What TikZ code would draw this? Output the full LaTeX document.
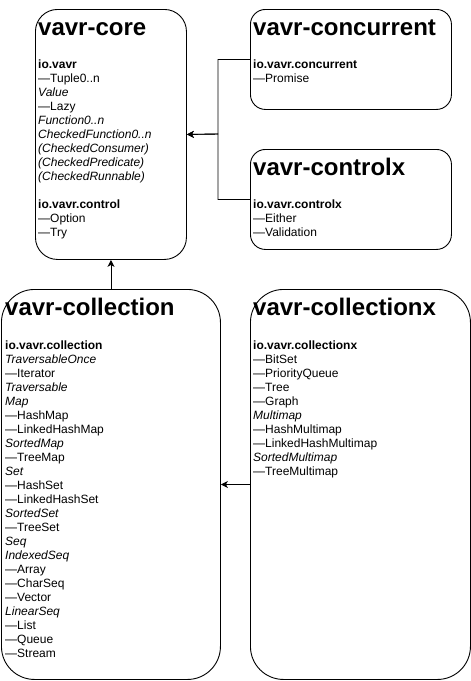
\documentclass[tikz,border=0pt]{standalone}
\usepackage{fontspec}
\setmainfont{Liberation Sans}
\usetikzlibrary{arrows.meta}

\newcommand{\pkg}[1]{\textbf{#1}\\}
\newcommand{\iface}[1]{\textit{#1}\\}
\newcommand{\impl}[1]{---#1\\}
\newcommand{\modtitle}{\fontsize{24}{27}\selectfont\bfseries}

\tikzset{
  modbox/.style={draw, line width=0.9pt, inner sep=0pt, anchor=north west},
  modtext/.style={inner sep=0pt, anchor=base west, font=\fontsize{12}{14}\selectfont},
  modhead/.style={inner sep=0pt, anchor=base west, font=\modtitle},
  dep/.style={line width=0.9pt, -{Stealth[length=7pt,width=7pt,inset=2pt]}}
}

\begin{document}
\begin{tikzpicture}[x=1pt, y=1pt]
  \useasboundingbox (0,0) rectangle (471,-681);
  \node[modbox, rounded corners=22pt, minimum width=151pt, minimum height=250pt] (core) at (35,-9) {};
  \node[modbox, rounded corners=15pt, minimum width=201pt, minimum height=100pt] (concurrent) at (250,-9) {};
  \node[modbox, rounded corners=15pt, minimum width=201pt, minimum height=100pt] (controlx) at (250,-149) {};
  \node[modbox, rounded corners=33pt, minimum width=219pt, minimum height=390pt] (collection) at (1,-289) {};
  \node[modbox, rounded corners=33pt, minimum width=220pt, minimum height=390pt] (collectionx) at (250,-289) {};

  \node[modhead] (core-title) at (38,-35.5) {vavr-core};
  \node[modtext] (core-body) at (38,-68.5) {\parbox[t]{145pt}{%
    \pkg{io.vavr}
    \impl{Tuple0..n}
    \iface{Value}
    \impl{Lazy}
    \iface{Function0..n}
    \iface{CheckedFunction0..n}
    \iface{(CheckedConsumer)}
    \iface{(CheckedPredicate)}
    \iface{(CheckedRunnable)}[14pt]
    \pkg{io.vavr.control}
    \impl{Option}
    ---Try}};

  \node[modhead] (concurrent-title) at (253,-35.5) {vavr-concurrent};
  \node[modtext] (concurrent-body) at (253,-68.5) {\parbox[t]{195pt}{%
    \pkg{io.vavr.concurrent}
    ---Promise}};

  \node[modhead] (controlx-title) at (253,-175.5) {vavr-controlx};
  \node[modtext] (controlx-body) at (253,-208.5) {\parbox[t]{195pt}{%
    \pkg{io.vavr.controlx}
    \impl{Either}
    ---Validation}};

  \node[modhead] (collection-title) at (5,-315.5) {vavr-collection};
  \node[modtext] (collection-body) at (5,-349.5) {\parbox[t]{210pt}{%
    \pkg{io.vavr.collection}
    \iface{TraversableOnce}
    \impl{Iterator}
    \iface{Traversable}
    \iface{Map}
    \impl{HashMap}
    \impl{LinkedHashMap}
    \iface{SortedMap}
    \impl{TreeMap}
    \iface{Set}
    \impl{HashSet}
    \impl{LinkedHashSet}
    \iface{SortedSet}
    \impl{TreeSet}
    \iface{Seq}
    \iface{IndexedSeq}
    \impl{Array}
    \impl{CharSeq}
    \impl{Vector}
    \iface{LinearSeq}
    \impl{List}
    \impl{Queue}
    ---Stream}};

  \node[modhead] (collectionx-title) at (253,-315.5) {vavr-collectionx};
  \node[modtext] (collectionx-body) at (253,-349.5) {\parbox[t]{210pt}{%
    \pkg{io.vavr.collectionx}
    \impl{BitSet}
    \impl{PriorityQueue}
    \impl{Tree}
    \impl{Graph}
    \iface{Multimap}
    \impl{HashMultimap}
    \impl{LinkedHashMultimap}
    \iface{SortedMultimap}
    ---TreeMultimap}};

  \coordinate (join) at (218,-134);
  \draw[dep] (concurrent.west) -| (join) -- (core.east);
  \draw[dep] (controlx.west) -| (join) -- (core.east);
  \draw[dep] (collection.north) -- (core.south);
  \draw[dep] (collectionx.west) -- (collection.east);
\end{tikzpicture}
\end{document}
